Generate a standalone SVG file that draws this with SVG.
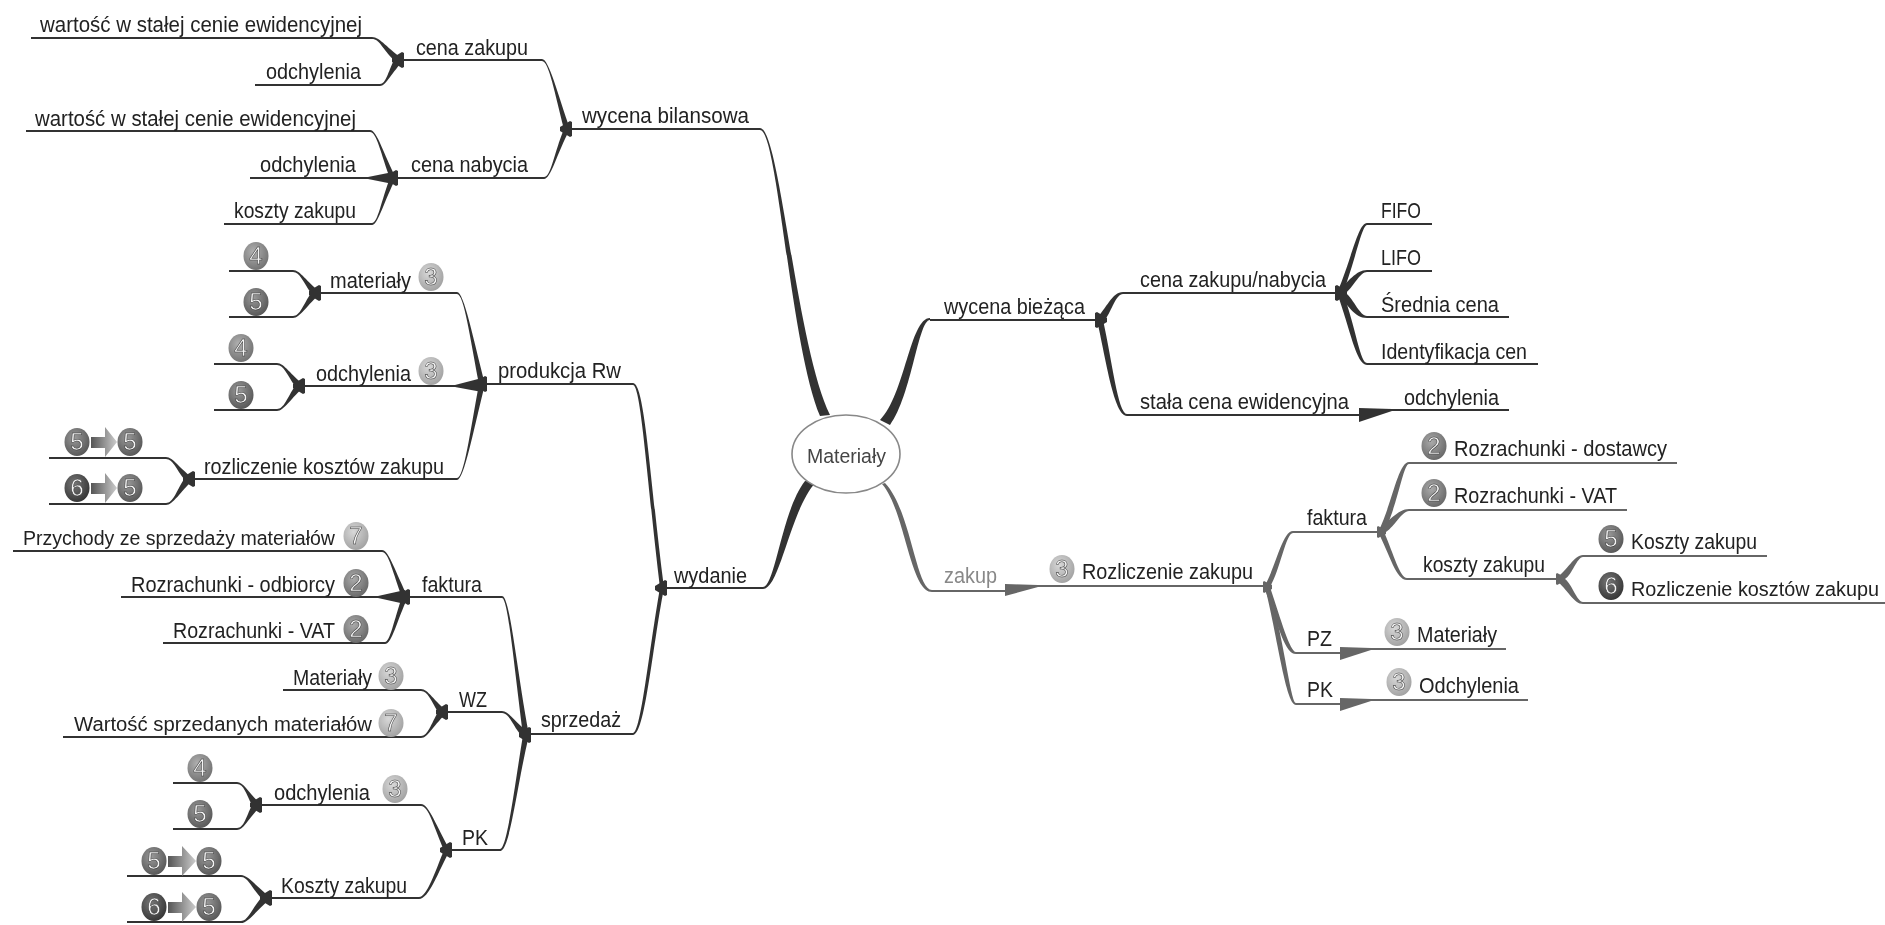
<svg xmlns="http://www.w3.org/2000/svg" width="1885" height="925" viewBox="0 0 1885 925">
<style>
text{font-family:"Liberation Sans",Arial,sans-serif;font-size:21.5px;fill:#222}
.gt{fill:#888}
.ct{fill:#444;font-size:20.5px}
.f{font-size:20px}
.d{fill:#333}
.g{fill:#666}
.l{stroke:#333;stroke-width:2;fill:none}
.lg{stroke:#666;stroke-width:2;fill:none}
.n{font-size:24px;text-anchor:middle;fill:#f4f4f4;stroke:#333;stroke-width:.5}
.b2{fill:url(#gb2)}.b3{fill:url(#gb3)}.b4{fill:url(#gb4)}.b5{fill:url(#gb5)}.b6{fill:url(#gb6)}
.ar{fill:url(#ga)}
</style>
<defs>
<radialGradient id="gb2" cx=".4" cy=".35" r=".7"><stop offset="0" stop-color="#aaa"/><stop offset="1" stop-color="#666"/></radialGradient>
<radialGradient id="gb3" cx=".4" cy=".35" r=".7"><stop offset="0" stop-color="#d8d8d8"/><stop offset="1" stop-color="#a0a0a0"/></radialGradient>
<radialGradient id="gb4" cx=".4" cy=".35" r=".7"><stop offset="0" stop-color="#b0b0b0"/><stop offset="1" stop-color="#707070"/></radialGradient>
<radialGradient id="gb5" cx=".4" cy=".35" r=".7"><stop offset="0" stop-color="#999"/><stop offset="1" stop-color="#555"/></radialGradient>
<radialGradient id="gb6" cx=".4" cy=".35" r=".7"><stop offset="0" stop-color="#777"/><stop offset="1" stop-color="#333"/></radialGradient>
<linearGradient id="ga" x1="0" x2="1"><stop offset="0" stop-color="#555"/><stop offset="1" stop-color="#ccc"/></linearGradient>
<filter id="soft" x="0" y="0" width="100%" height="100%"><feGaussianBlur stdDeviation=".45"/></filter>
<path id="j" d="M-7,-2 L3,-8 L5,-7 V7 L3,8 L-7,2Z" class="d"/>
<path id="jr" d="M7,-2 L-3,-8 L-5,-7 V7 L-3,8 L7,2Z" class="d"/>
<path id="jg" d="M5,-2 L-3,-6 L-4,-5 V5 L-3,6 L5,2Z" class="g"/>
</defs>
<rect width="1885" height="925" fill="#fff"/>
<g filter="url(#soft)">
<g id="connectors">
<path class="l" d="M31 38H372M255 85H380M399 60H542M26 131H370M250 178H393H544M224 224H372M567 129H760"/>
<path class="l" d="M229 271H293M229 317H293M316 293H457M214 364H277M214 410H277M304 386H482M49 458H166M49 504H166M190 479H457M482 384H633M662 588H763"/>
<path class="l" d="M13 551H382M121 597H502M163 643H385M283 690H421M63 737H421M443 712H502M173 783H237M173 829H237M257 805H421M127 876H241M127 922H241M267 898H419M447 850H500M526 734H633"/>
<path class="l" d="M930 320H1100M1123 293H1340M1127 415H1359M1367 224H1432M1367 271H1432M1367 317H1509M1367 364H1538M1392 410H1509"/>
<path class="lg" d="M932 591H1006M1038 586H1267M1293 532H1380M1296 653H1340M1296 704H1340M1371 649H1506M1371 700H1528M1409 463H1677M1409 510H1627M1407 579H1558M1583 556H1767M1583 603H1885"/>
<g class="d">
<path d="M830,415 C796,345 780,128 760,128 L760,130 C778,130 790,345 820,416Z"/>
<path d="M816,482 C790,510 780,589 763,589 L763,587 C775,587 782,510 805,481Z"/>
<path d="M880,420 C905,395 910,318 930,318 L930,320 C918,320 912,395 890,425Z"/>
<path d="M404,60 C388,49 380,37 372,37 L372,39 C380,39 382,49 394,60Z"/>
<path d="M404,60 C392,72 386,86 380,86 L380,84 C386,84 388,72 394,60Z"/>
<path d="M396,178 C384,155 377,130 370,130 L370,132 C377,132 381,155 390,178Z"/>
<path d="M393,172 L368,177 L368,179 L393,184Z"/>
<path d="M396,178 C384,201 378,225 372,225 L372,223 C378,223 381,201 390,178Z"/>
<path d="M570,129 C558,95 549,59 542,59 L542,61 C549,61 555,95 564,129Z"/>
<path d="M570,129 C557,153 551,179 544,179 L544,177 C551,177 554,153 564,129Z"/>
<path d="M485,384 C473,338 464,292 457,292 L457,294 C464,294 470,338 479,384Z"/>
<path d="M482,378 L455,385 L455,387 L482,392Z"/>
<path d="M485,384 C473,432 464,480 457,480 L457,478 C464,478 470,432 479,384Z"/>
<path d="M321,293 C307,282 300,270 293,270 L293,272 C300,272 303,282 311,293Z"/>
<path d="M321,293 C307,305 300,318 293,318 L293,316 C300,316 303,305 311,293Z"/>
<path d="M305,386 C291,375 284,363 277,363 L277,365 C284,365 287,375 295,386Z"/>
<path d="M305,386 C291,398 284,411 277,411 L277,409 C284,409 287,398 295,386Z"/>
<path d="M194,479 C180,469 173,457 166,457 L166,459 C173,459 176,469 184,479Z"/>
<path d="M194,479 C180,492 173,505 166,505 L166,503 C173,503 176,492 184,479Z"/>
<path d="M664,588 C650,480 645,383 633,383 L633,385 C641,385 647,480 660,588Z"/>
<path d="M664,588 C652,650 645,735 633,735 L633,733 C641,733 649,650 660,588Z"/>
<path d="M408,597 C396,574 389,550 382,550 L382,552 C389,552 393,574 402,597Z"/>
<path d="M405,590 L378,596 L378,598 L405,604Z"/>
<path d="M408,597 C397,620 392,644 385,644 L385,642 C390,642 394,620 402,597Z"/>
<path d="M448,712 C434,701 428,689 421,689 L421,691 C428,691 431,701 438,712Z"/>
<path d="M448,712 C434,724 428,738 421,738 L421,736 C428,736 431,724 438,712Z"/>
<path d="M262,805 C249,794 244,782 237,782 L237,784 C244,784 246,794 252,805Z"/>
<path d="M262,805 C249,817 244,830 237,830 L237,828 C244,828 246,817 252,805Z"/>
<path d="M271,898 C257,887 248,875 241,875 L241,877 C248,877 251,887 261,898Z"/>
<path d="M271,898 C257,910 248,923 241,923 L241,921 C248,921 251,910 261,898Z"/>
<path d="M450,850 C437,828 429,804 421,804 L421,806 C429,806 434,828 444,850Z"/>
<path d="M450,850 C438,872 429,899 419,899 L419,897 C427,897 435,872 444,850Z"/>
<path d="M529,735 C516,665 510,596 502,596 L502,598 C508,598 514,665 523,735Z"/>
<path d="M531,733 C518,727 510,711 502,711 L502,713 C510,713 514,729 523,737Z"/>
<path d="M529,735 C516,790 510,851 500,851 L500,849 C507,849 514,790 523,735Z"/>
<path d="M1095,320 C1107,308 1112,292 1123,292 L1123,294 C1116,294 1112,310 1105,320Z"/>
<path d="M1097,320 C1106,360 1114,416 1127,416 L1127,414 C1118,414 1112,360 1103,320Z"/>
<path d="M1337,293 C1352,258 1358,223 1367,223 L1367,225 C1362,225 1356,258 1343,293Z"/>
<path d="M1336,293 C1348,282 1356,270 1367,270 L1367,272 C1360,272 1354,286 1346,293Z"/>
<path d="M1336,293 C1348,304 1354,318 1367,318 L1367,316 C1360,316 1354,300 1346,293Z"/>
<path d="M1337,293 C1350,328 1356,365 1367,365 L1367,363 C1360,363 1356,328 1343,293Z"/>
<path d="M1359,408 L1392,409 L1392,411 L1359,422Z"/>
</g>
<g class="g">
<path d="M882,484 C905,510 910,592 932,592 L932,590 C916,590 911,510 885,483Z"/>
<path d="M1005,584 L1038,585 L1038,587 L1005,596Z"/>
<path d="M1264,587 C1275,570 1282,531 1293,531 L1293,533 C1286,533 1280,570 1270,587Z"/>
<path d="M1264,587 C1277,620 1284,654 1296,654 L1296,652 C1290,652 1281,620 1270,587Z"/>
<path d="M1265,587 C1278,640 1286,705 1296,705 L1296,703 C1291,703 1284,640 1269,587Z"/>
<path d="M1340,647 L1371,648 L1371,650 L1340,660Z"/>
<path d="M1340,698 L1371,699 L1371,701 L1340,711Z"/>
<path d="M1378,532 C1392,505 1398,462 1409,462 L1409,464 C1403,464 1398,505 1384,532Z"/>
<path d="M1376,532 C1388,522 1398,509 1409,509 L1409,511 C1402,511 1395,526 1386,532Z"/>
<path d="M1378,532 C1390,555 1396,580 1407,580 L1407,578 C1400,578 1394,555 1384,532Z"/>
<path d="M1555,579 C1568,570 1574,555 1583,555 L1583,557 C1577,557 1572,575 1565,579Z"/>
<path d="M1555,579 C1568,590 1574,604 1583,604 L1583,602 C1577,602 1572,584 1565,579Z"/>
</g>
<use href="#j" x="399" y="60"/><use href="#j" x="393" y="178"/><use href="#j" x="567" y="129"/><use href="#j" x="316" y="293"/><use href="#j" x="300" y="386"/><use href="#j" x="190" y="479"/><use href="#j" x="482" y="384"/><use href="#j" x="662" y="588"/><use href="#j" x="405" y="597"/><use href="#j" x="443" y="712"/><use href="#j" x="257" y="805"/><use href="#j" x="267" y="898"/><use href="#j" x="447" y="850"/><use href="#j" x="526" y="735"/><use href="#jr" x="1100" y="320"/><use href="#jr" x="1340" y="293"/>
<use href="#jg" x="1267" y="587"/><use href="#jg" x="1381" y="532"/><use href="#jg" x="1560" y="579"/>
</g>
<g id="root"><ellipse cx="846" cy="454" rx="54" ry="39" fill="#fff" stroke="#888" stroke-width="1.6"/><text class="ct" x="807" y="463" textLength="79" lengthAdjust="spacingAndGlyphs">Materiały</text></g>
<g id="n-wycena-bilansowa"><text x="582" y="123" textLength="167" lengthAdjust="spacingAndGlyphs">wycena bilansowa</text></g>
<g id="n-cena-zakupu"><text x="416" y="55" textLength="112" lengthAdjust="spacingAndGlyphs">cena zakupu</text></g>
<g id="n-wartosc1"><text x="40" y="32" textLength="322" lengthAdjust="spacingAndGlyphs">wartość w stałej cenie ewidencyjnej</text></g>
<g id="n-odchylenia1"><text x="266" y="79" textLength="95" lengthAdjust="spacingAndGlyphs">odchylenia</text></g>
<g id="n-cena-nabycia"><text x="411" y="172" textLength="117" lengthAdjust="spacingAndGlyphs">cena nabycia</text></g>
<g id="n-wartosc2"><text x="35" y="126" textLength="321" lengthAdjust="spacingAndGlyphs">wartość w stałej cenie ewidencyjnej</text></g>
<g id="n-odchylenia2"><text x="260" y="172" textLength="96" lengthAdjust="spacingAndGlyphs">odchylenia</text></g>
<g id="n-koszty1"><text x="234" y="218" textLength="122" lengthAdjust="spacingAndGlyphs">koszty zakupu</text></g>
<g id="n-wydanie"><text x="674" y="583" textLength="73" lengthAdjust="spacingAndGlyphs">wydanie</text></g>
<g id="n-produkcja"><text x="498" y="378" textLength="123" lengthAdjust="spacingAndGlyphs">produkcja Rw</text></g>
<g id="n-materialy"><text x="330" y="288" textLength="81" lengthAdjust="spacingAndGlyphs">materiały</text><ellipse class="b3" cx="431" cy="277" rx="12.5" ry="14"/><text class="n" x="431" y="285">3</text></g>
<g id="n-m4"><ellipse class="b4" cx="256" cy="256" rx="12.5" ry="14"/><text class="n" x="256" y="264">4</text></g>
<g id="n-m5"><ellipse class="b5" cx="256" cy="302" rx="12.5" ry="14"/><text class="n" x="256" y="310">5</text></g>
<g id="n-odchylenia3"><text x="316" y="381" textLength="95" lengthAdjust="spacingAndGlyphs">odchylenia</text><ellipse class="b3" cx="431" cy="371" rx="12.5" ry="14"/><text class="n" x="431" y="379">3</text></g>
<g id="n-o4"><ellipse class="b4" cx="241" cy="348" rx="12.5" ry="14"/><text class="n" x="241" y="356">4</text></g>
<g id="n-o5"><ellipse class="b5" cx="241" cy="395" rx="12.5" ry="14"/><text class="n" x="241" y="403">5</text></g>
<g id="n-rozliczenie"><text x="204" y="474" textLength="240" lengthAdjust="spacingAndGlyphs">rozliczenie kosztów zakupu</text></g>
<g id="n-r1"><ellipse class="b5" cx="77" cy="442" rx="12.5" ry="14"/><text class="n" x="77" y="450">5</text><path class="ar" d="M91,437H105V427L117,442L105,457V448H91Z"/><ellipse class="b5" cx="130" cy="442" rx="12.5" ry="14"/><text class="n" x="130" y="450">5</text></g>
<g id="n-r2"><ellipse class="b6" cx="77" cy="488" rx="12.5" ry="14"/><text class="n" x="77" y="496">6</text><path class="ar" d="M91,483H105V473L117,488L105,503V494H91Z"/><ellipse class="b5" cx="130" cy="488" rx="12.5" ry="14"/><text class="n" x="130" y="496">5</text></g>
<g id="n-sprzedaz"><text x="541" y="727" textLength="80" lengthAdjust="spacingAndGlyphs">sprzedaż</text></g>
<g id="n-faktura1"><text x="422" y="592" textLength="60" lengthAdjust="spacingAndGlyphs">faktura</text></g>
<g id="n-przychody"><text class="f" x="23" y="545" textLength="312" lengthAdjust="spacingAndGlyphs">Przychody ze sprzedaży materiałów</text><ellipse class="b3" cx="356" cy="536" rx="12.5" ry="14"/><text class="n" x="356" y="544">7</text></g>
<g id="n-odbiorcy"><text x="131" y="592" textLength="204" lengthAdjust="spacingAndGlyphs">Rozrachunki - odbiorcy</text><ellipse class="b2" cx="356" cy="583" rx="12.5" ry="14"/><text class="n" x="356" y="591">2</text></g>
<g id="n-vat1"><text x="173" y="638" textLength="162" lengthAdjust="spacingAndGlyphs">Rozrachunki - VAT</text><ellipse class="b2" cx="356" cy="629" rx="12.5" ry="14"/><text class="n" x="356" y="637">2</text></g>
<g id="n-wz"><text x="459" y="707" textLength="28" lengthAdjust="spacingAndGlyphs">WZ</text></g>
<g id="n-materialy2"><text x="293" y="685" textLength="79" lengthAdjust="spacingAndGlyphs">Materiały</text><ellipse class="b3" cx="391" cy="676" rx="12.5" ry="14"/><text class="n" x="391" y="684">3</text></g>
<g id="n-wartosc3"><text class="f" x="74" y="731" textLength="298" lengthAdjust="spacingAndGlyphs">Wartość sprzedanych materiałów</text><ellipse class="b3" cx="391" cy="723" rx="12.5" ry="14"/><text class="n" x="391" y="731">7</text></g>
<g id="n-pk1"><text x="462" y="845" textLength="26" lengthAdjust="spacingAndGlyphs">PK</text></g>
<g id="n-odchylenia4"><text x="274" y="800" textLength="96" lengthAdjust="spacingAndGlyphs">odchylenia</text><ellipse class="b3" cx="395" cy="789" rx="12.5" ry="14"/><text class="n" x="395" y="797">3</text></g>
<g id="n-p4"><ellipse class="b4" cx="200" cy="768" rx="12.5" ry="14"/><text class="n" x="200" y="776">4</text></g>
<g id="n-p5"><ellipse class="b5" cx="200" cy="814" rx="12.5" ry="14"/><text class="n" x="200" y="822">5</text></g>
<g id="n-koszty2"><text x="281" y="893" textLength="126" lengthAdjust="spacingAndGlyphs">Koszty zakupu</text></g>
<g id="n-k1"><ellipse class="b5" cx="154" cy="861" rx="12.5" ry="14"/><text class="n" x="154" y="869">5</text><path class="ar" d="M168,856H182V846L196,861L182,876V867H168Z"/><ellipse class="b5" cx="209" cy="861" rx="12.5" ry="14"/><text class="n" x="209" y="869">5</text></g>
<g id="n-k2"><ellipse class="b6" cx="154" cy="907" rx="12.5" ry="14"/><text class="n" x="154" y="915">6</text><path class="ar" d="M168,902H182V892L196,907L182,922V913H168Z"/><ellipse class="b5" cx="209" cy="907" rx="12.5" ry="14"/><text class="n" x="209" y="915">5</text></g>
<g id="n-wycena-biezaca"><text x="944" y="314" textLength="141" lengthAdjust="spacingAndGlyphs">wycena bieżąca</text></g>
<g id="n-cena-zn"><text x="1140" y="287" textLength="186" lengthAdjust="spacingAndGlyphs">cena zakupu/nabycia</text></g>
<g id="n-fifo"><text x="1381" y="218" textLength="40" lengthAdjust="spacingAndGlyphs">FIFO</text></g>
<g id="n-lifo"><text x="1381" y="265" textLength="40" lengthAdjust="spacingAndGlyphs">LIFO</text></g>
<g id="n-srednia"><text x="1381" y="312" textLength="118" lengthAdjust="spacingAndGlyphs">Średnia cena</text></g>
<g id="n-identyfikacja"><text x="1381" y="359" textLength="146" lengthAdjust="spacingAndGlyphs">Identyfikacja cen</text></g>
<g id="n-stala"><text x="1140" y="409" textLength="209" lengthAdjust="spacingAndGlyphs">stała cena ewidencyjna</text></g>
<g id="n-odchylenia5"><text x="1404" y="405" textLength="95" lengthAdjust="spacingAndGlyphs">odchylenia</text></g>
<g id="n-zakup"><text class="gt" x="944" y="583" textLength="53" lengthAdjust="spacingAndGlyphs">zakup</text></g>
<g id="n-rozliczenie-zakupu"><ellipse class="b3" cx="1062" cy="569" rx="12.5" ry="14"/><text class="n" x="1062" y="577">3</text><text x="1082" y="579" textLength="171" lengthAdjust="spacingAndGlyphs">Rozliczenie zakupu</text></g>
<g id="n-faktura2"><text x="1307" y="525" textLength="60" lengthAdjust="spacingAndGlyphs">faktura</text></g>
<g id="n-dostawcy"><ellipse class="b2" cx="1434" cy="446" rx="12.5" ry="14"/><text class="n" x="1434" y="454">2</text><text x="1454" y="456" textLength="213" lengthAdjust="spacingAndGlyphs">Rozrachunki - dostawcy</text></g>
<g id="n-vat2"><ellipse class="b2" cx="1434" cy="493" rx="12.5" ry="14"/><text class="n" x="1434" y="501">2</text><text x="1454" y="503" textLength="163" lengthAdjust="spacingAndGlyphs">Rozrachunki - VAT</text></g>
<g id="n-koszty3"><text x="1423" y="572" textLength="122" lengthAdjust="spacingAndGlyphs">koszty zakupu</text></g>
<g id="n-koszty4"><ellipse class="b5" cx="1611" cy="539" rx="12.5" ry="14"/><text class="n" x="1611" y="547">5</text><text x="1631" y="549" textLength="126" lengthAdjust="spacingAndGlyphs">Koszty zakupu</text></g>
<g id="n-rozl2"><ellipse class="b6" cx="1611" cy="586" rx="12.5" ry="14"/><text class="n" x="1611" y="594">6</text><text class="f" x="1631" y="596" textLength="248" lengthAdjust="spacingAndGlyphs">Rozliczenie kosztów zakupu</text></g>
<g id="n-pz"><text x="1307" y="646" textLength="25" lengthAdjust="spacingAndGlyphs">PZ</text></g>
<g id="n-materialy3"><ellipse class="b3" cx="1397" cy="632" rx="12.5" ry="14"/><text class="n" x="1397" y="640">3</text><text x="1417" y="642" textLength="80" lengthAdjust="spacingAndGlyphs">Materiały</text></g>
<g id="n-pk2"><text x="1307" y="697" textLength="26" lengthAdjust="spacingAndGlyphs">PK</text></g>
<g id="n-odchylenia6"><ellipse class="b3" cx="1399" cy="682" rx="12.5" ry="14"/><text class="n" x="1399" y="690">3</text><text x="1419" y="693" textLength="100" lengthAdjust="spacingAndGlyphs">Odchylenia</text></g>
</g>
</svg>
